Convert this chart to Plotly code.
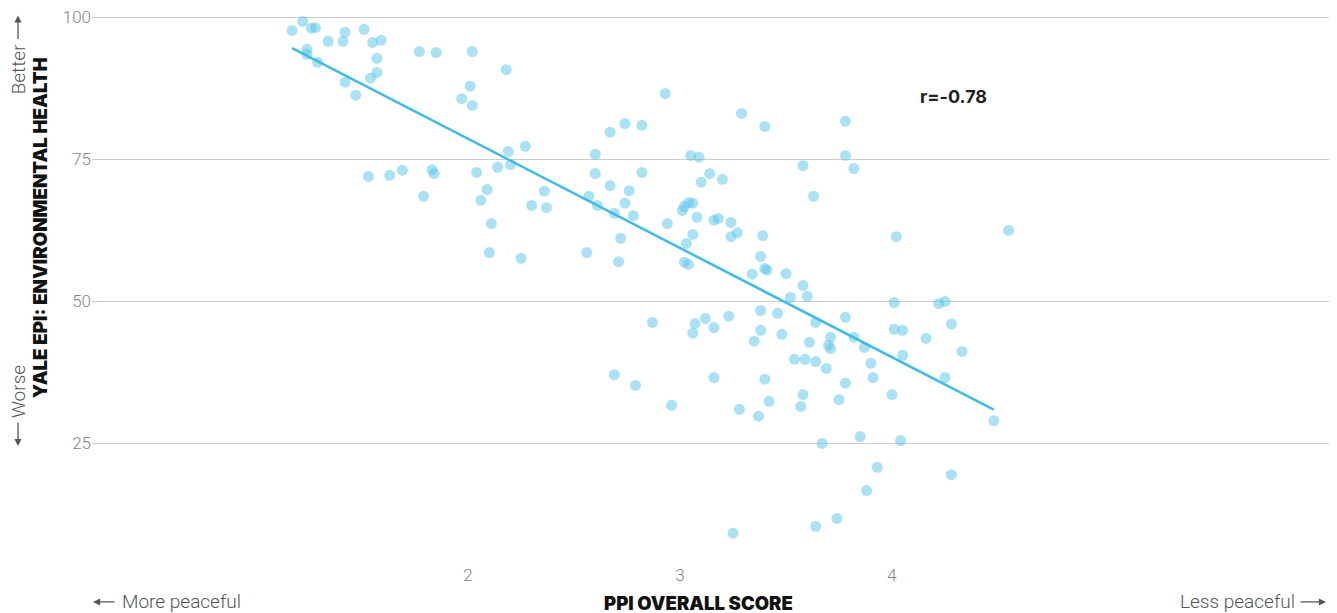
import numpy as np
import plotly.graph_objects as go

# PPI overall score (x) vs Yale EPI environmental health (y)
ppi = [1.17, 1.22, 1.26, 1.28, 1.24, 1.24, 1.29, 1.34, 1.41, 1.42, 1.51, 1.55, 1.59, 1.57, 1.57, 1.54, 1.42, 1.47,
       1.77, 1.85, 2.02, 2.18, 2.01, 1.97, 2.02, 2.19, 2.27, 2.20, 2.14, 2.04, 2.09, 1.83, 1.84, 1.69, 1.63, 1.53,
       1.79, 2.06, 2.36, 2.11, 2.10, 2.25, 2.30, 2.37, 2.93, 3.29, 3.40, 3.78, 2.67, 2.74, 2.82, 2.60, 2.60, 2.82,
       2.67, 2.76, 2.57, 2.61, 2.74, 2.69, 2.78, 2.72, 2.56, 2.71, 3.05, 3.09, 3.58, 3.78, 3.82, 3.14, 3.10, 3.20,
       3.63, 2.94, 3.01, 3.02, 3.04, 3.06, 3.08, 3.16, 3.18, 3.24, 3.24, 3.27, 3.39, 3.06, 3.03, 3.02, 3.04, 3.38,
       3.40, 3.41, 3.34, 3.50, 3.58, 3.52, 3.60, 2.87, 3.07, 3.12, 3.06, 3.16, 3.23, 3.38, 3.46, 3.38, 3.35, 3.48,
       3.64, 3.78, 3.61, 3.71, 3.82, 3.70, 3.71, 3.87, 3.90, 3.91, 3.54, 3.59, 3.64, 3.69, 3.78, 3.75, 3.58, 3.57,
       3.42, 3.40, 3.16, 3.37, 3.28, 2.96, 2.79, 2.69, 3.67, 3.85, 3.88, 3.74, 3.64, 3.25, 4.02, 4.55, 4.01, 4.22,
       4.25, 4.01, 4.05, 4.28, 4.16, 4.05, 4.33, 4.25, 4.00, 4.48, 4.04, 3.93, 4.28]
epi = [97.7, 99.3, 98.1, 98.2, 94.4, 93.5, 92.1, 95.8, 95.8, 97.4, 97.9, 95.6, 96.0, 92.8, 90.3, 89.3, 88.6, 86.3,
       94.0, 93.8, 94.0, 90.8, 87.9, 85.7, 84.5, 76.4, 77.3, 74.1, 73.6, 72.7, 69.7, 73.2, 72.5, 73.1, 72.2, 72.0,
       68.5, 67.8, 69.4, 63.7, 58.6, 57.6, 66.9, 66.5, 86.6, 83.1, 80.8, 81.7, 79.8, 81.3, 81.0, 75.9, 72.5, 72.7,
       70.4, 69.5, 68.5, 66.9, 67.3, 65.5, 65.1, 61.1, 58.6, 57.0, 75.7, 75.4, 73.9, 75.7, 73.4, 72.5, 71.0, 71.5,
       68.5, 63.7, 66.0, 66.7, 67.4, 67.3, 64.8, 64.3, 64.6, 63.9, 61.4, 62.1, 61.6, 61.8, 60.2, 56.9, 56.5, 57.9,
       55.8, 55.5, 54.8, 54.9, 52.8, 50.7, 50.9, 46.3, 46.1, 47.0, 44.4, 45.4, 47.4, 48.4, 47.9, 44.9, 43.0, 44.2,
       46.3, 47.2, 42.8, 43.7, 43.7, 42.3, 41.7, 41.9, 39.1, 36.6, 39.8, 39.8, 39.4, 38.2, 35.6, 32.7, 33.6, 31.5,
       32.4, 36.3, 36.6, 29.8, 31.0, 31.7, 35.2, 37.1, 25.0, 26.2, 16.7, 11.8, 10.4, 9.2, 61.4, 62.5, 49.8, 49.6,
       50.0, 45.1, 44.9, 46.0, 43.5, 40.5, 41.2, 36.6, 33.6, 29.0, 25.5, 20.8, 19.5]

x_ticks = [2, 3, 4]
y_ticks = [25, 50, 75, 100]
r_label = "r=-0.78"
trend_span = [1.17, 4.48]   # x extent over which the reference draws its trend line

x_arr = np.array(ppi)
y_arr = np.array(epi)
slope, intercept = np.polyfit(x_arr, y_arr, 1)
fit_x = np.array(trend_span)
fit_y = slope * fit_x + intercept

GRAY = "#858585"
DARK = "#555555"
BASE_FONT = "Roboto"

# the page body adds an 8px offset; compensate so the figure lands where the reference is
OFF = 8
W, H = 1337, 613
Y_MIN, Y_MAX = 5, 100.6
scale = (557 - 17) / (100 - Y_MIN)          # px per unit in the reference
top_px = 17 - (Y_MAX - 100) * scale
pl, pr, pt, pb = 92 - OFF, 1330 - OFF, top_px - OFF, 557 - OFF

fig = go.Figure()
fig.add_trace(go.Scatter(
    x=ppi, y=epi, mode="markers",
    marker=dict(size=11, color="rgba(85,195,235,0.5)", line=dict(width=0)),
    hoverinfo="x+y", showlegend=False,
))
fig.add_trace(go.Scatter(
    x=fit_x, y=fit_y, mode="lines",
    line=dict(color="#3fbbe6", width=2.5), hoverinfo="skip", showlegend=False,
))

fig.update_layout(
    width=W, height=H,
    margin=dict(l=pl, r=W - pr, t=pt, b=H - pb, pad=0),
    paper_bgcolor="white", plot_bgcolor="white",
    font=dict(family=BASE_FONT, color=GRAY, size=17),
    xaxis=dict(range=[0.226, 6.066], tickvals=x_ticks, showgrid=False, zeroline=False,
               showline=False, ticks="", tickfont=dict(size=17, color=GRAY, weight=300),
               ticklabelstandoff=6, automargin=False),
    yaxis=dict(range=[Y_MIN, Y_MAX], tickvals=y_ticks, showgrid=True, gridcolor="#cccccc", gridwidth=1,
               zeroline=False, showline=False, ticks="", ticklabeloverflow="allow",
               tickfont=dict(size=17, color=GRAY, weight=300), ticklabelstandoff=0, automargin=False),
    showlegend=False,
)

def px_to_paper(px, py):
    px -= OFF
    py -= OFF
    return (px - pl) / (pr - pl), (pb - py) / (pb - pt)

final = []
final.append(dict(x=4.29, y=86.1, xref="x", yref="y", text="<b>" + r_label + "</b>",
                  showarrow=False, font=dict(family="Inter", size=18, color="#222222", weight=800)))

# pixel-placed texts (reference window coordinates)
texts = [
    (40, 228, "YALE EPI: ENVIRONMENTAL HEALTH", -90, dict(family="Inter", size=18.7, color="#111111", weight=900)),
    (698, 603, "PPI OVERALL SCORE", 0, dict(family="Inter", size=18.5, color="#111111", weight=900)),
    (18, 69, "Better", -90, dict(size=19, color=DARK, weight=300)),
    (18, 392, "Worse", -90, dict(size=19, color=DARK, weight=300)),
    (181, 602, "More peaceful", 0, dict(size=19, color=DARK, weight=300)),
    (1237, 602, "Less peaceful", 0, dict(size=19, color=DARK, weight=300)),
]
for tx, ty, t, ang, f in texts:
    xp, yp = px_to_paper(tx, ty)
    final.append(dict(x=xp, y=yp, xref="paper", yref="paper", xanchor="center", yanchor="middle",
                      text=t, textangle=ang, showarrow=False, font=f))

# arrows (head, tail) in reference pixels
arrows = [((18, 15), (18, 40)), ((18, 446), (18, 421)), ((93, 602), (116, 602)), ((1326, 602), (1299, 602))]
for (hx, hy), (tx, ty) in arrows:
    xp, yp = px_to_paper(hx, hy)
    final.append(dict(x=xp, y=yp, xref="paper", yref="paper", ax=tx - hx, ay=ty - hy,
                      axref="pixel", ayref="pixel", text="", showarrow=True,
                      arrowhead=2, arrowsize=1.1, arrowwidth=1.3, arrowcolor=DARK))

fig.update_layout(annotations=final)
fig.write_html("out.html")
